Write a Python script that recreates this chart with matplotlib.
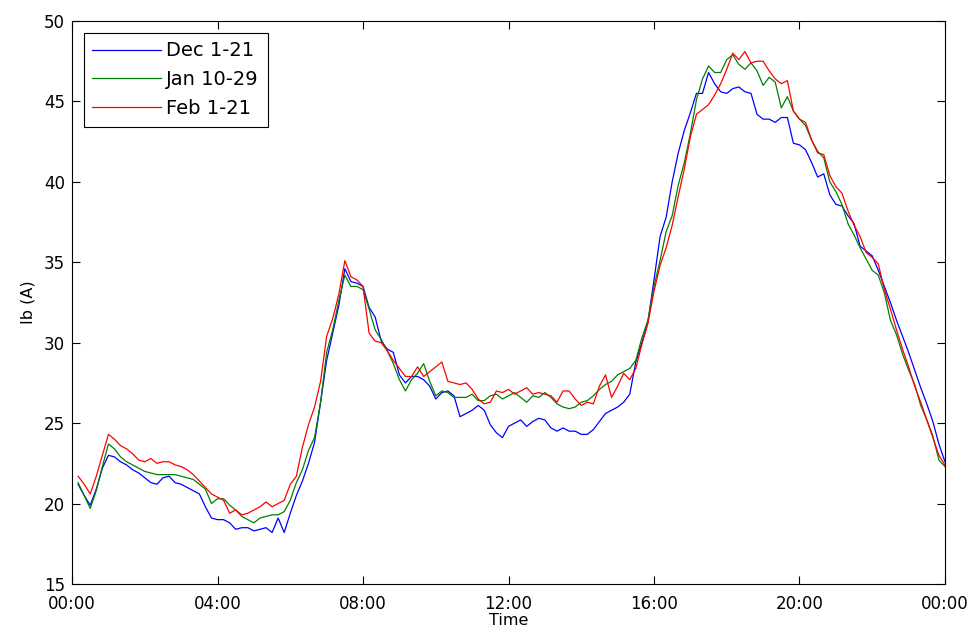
# daily_current_profile.py
# Average phase-b current over a day, one curve per measurement period

import numpy as np
import matplotlib
matplotlib.use("Agg")
import matplotlib.pyplot as plt

# ------------------------------
# DATA (10-minute averages, 00:10 .. 24:00)
# ------------------------------

STEP_MIN = 10

DEC_1_21 = [
    21.2, 20.5, 19.9, 20.9, 22.2, 23.0,
    22.9, 22.6, 22.4, 22.1, 21.9, 21.6, 21.3, 21.2, 21.6, 21.7, 21.3, 21.2, 21.0, 20.8, 20.6, 19.8,
    19.1, 19.0, 19.0, 18.8, 18.4, 18.5, 18.5, 18.3, 18.4, 18.5, 18.2, 19.1, 18.2, 19.4, 20.5, 21.4, 22.5, 23.8, 26.3,
    28.9, 30.6, 32.3, 34.6, 33.8, 33.7, 33.5, 32.2, 31.6, 30.1, 29.6, 29.4, 28.0, 27.5, 27.9, 27.9, 27.7, 27.3, 26.5,
    26.9, 27.0, 26.7, 25.4,
    25.6, 25.8, 26.1, 25.8, 24.9, 24.4, 24.1, 24.8, 25.0, 25.2, 24.8, 25.1, 25.3, 25.2, 24.7, 24.5, 24.7, 24.5, 24.5,
    24.3, 24.3, 24.6, 25.1,
    25.6, 25.8, 26.0, 26.3, 26.8, 28.8, 30.0, 31.3, 33.9, 36.6, 37.8, 40.0, 41.8, 43.2, 44.3, 45.5, 45.5, 46.8, 46.1,
    45.6,
    45.5, 45.8, 45.9, 45.6, 45.5, 44.2, 43.9, 43.9, 43.7, 44.0, 44.0, 42.4, 42.3, 42.0, 41.2, 40.3, 40.5, 39.2,
    38.6, 38.5, 37.9, 37.4, 36.0, 35.7, 35.4, 34.5, 33.5, 32.5, 31.4, 30.4, 29.4, 28.3, 27.2, 26.2, 25.1, 23.7, 22.6,
]

JAN_10_29 = [
    21.3, 20.5, 19.7, 20.8, 22.3, 23.7,
    23.4, 22.9, 22.6, 22.4, 22.2, 22.0, 21.9, 21.8, 21.8, 21.8, 21.8, 21.7, 21.6, 21.5, 21.2, 20.9,
    20.0, 20.3, 20.3, 19.9, 19.6, 19.2, 19.0, 18.8, 19.1, 19.2, 19.3, 19.3, 19.5, 20.2, 21.3, 22.1, 23.3, 24.1, 26.3,
    29.4, 30.8, 32.6, 34.2, 33.5, 33.5, 33.3, 32.1, 30.8, 30.2, 29.5, 28.7, 27.7, 27.0, 27.7, 28.1, 28.7, 27.6, 26.7,
    27.0, 26.9, 26.6, 26.6,
    26.6, 26.8, 26.4, 26.4, 26.7, 26.8, 26.5, 26.7, 26.9, 26.6, 26.3, 26.7, 26.6, 26.9, 26.6, 26.2, 26.0, 25.9, 26.0,
    26.3, 26.4, 26.7, 27.1,
    27.4, 27.6, 28.0, 28.2, 28.4, 28.9, 30.3, 31.4, 33.5, 35.1, 36.9, 37.9, 39.8, 41.2, 43.0, 45.1, 46.4, 47.2, 46.8,
    46.8,
    47.6, 47.9, 47.3, 47.0, 47.4, 46.9, 46.0, 46.5, 46.2, 44.6, 45.3, 44.4, 43.9, 43.5, 42.6, 41.9, 41.5, 40.0,
    39.4, 38.6, 37.4, 36.7, 35.9, 35.2, 34.5, 34.2, 33.1, 31.4, 30.5, 29.3, 28.3, 27.4, 26.1, 25.2, 24.2, 22.7, 22.3,
]

FEB_1_21 = [
    21.7, 21.2, 20.6, 21.7, 23.0, 24.3,
    24.0, 23.6, 23.4, 23.1, 22.7, 22.6, 22.8, 22.5, 22.6, 22.6, 22.4, 22.3, 22.1, 21.8, 21.4, 21.0,
    20.6, 20.4, 20.2, 19.4, 19.6, 19.3, 19.4, 19.6, 19.8, 20.1, 19.8, 20.0, 20.2, 21.2, 21.7, 23.5, 24.9, 26.0, 27.6,
    30.4, 31.5, 33.0, 35.1, 34.1, 33.9, 33.5, 30.6, 30.1, 30.0, 29.5, 28.9, 28.4, 27.9, 27.9, 28.5, 27.9, 28.2, 28.5,
    28.8, 27.6, 27.5, 27.4,
    27.5, 27.1, 26.5, 26.2, 26.3, 27.0, 26.9, 27.1, 26.8, 27.0, 27.2, 26.8, 26.9, 26.8, 26.7, 26.3, 27.0, 27.0, 26.5,
    26.1, 26.3, 26.2, 27.3,
    28.0, 26.6, 27.3, 28.1, 27.7, 28.4, 29.9, 31.2, 33.2, 34.8, 35.9, 37.3, 39.1, 40.8, 42.8, 44.2, 44.5, 44.8, 45.4,
    46.1,
    47.0, 48.0, 47.6, 48.1, 47.4, 47.5, 47.5, 46.9, 46.4, 46.1, 46.3, 44.4, 43.9, 43.7, 42.6, 41.8, 41.7, 40.4,
    39.7, 39.3, 38.2, 37.3, 36.6, 35.6, 35.3, 34.9, 33.3, 32.1, 30.8, 29.6, 28.5, 27.3, 26.3, 25.2, 24.1, 23.0, 22.4,
]

SERIES_LABELS = ["Dec 1-21", "Jan 10-29", "Feb 1-21"]
SERIES_COLORS = [(0, 0, 1), (0, 0.5, 0), (1, 0, 0)]

X_TICKS = [0, 4, 8, 12, 16, 20, 24]
X_TICK_LABELS = ["00:00", "04:00", "08:00", "12:00", "16:00", "20:00", "00:00"]
Y_TICKS = [15, 20, 25, 30, 35, 40, 45, 50]

# ------------------------------
# VISUALIZATION
# ------------------------------

def plot_profiles():
    plt.rcParams["font.family"] = "DejaVu Sans"
    fig = plt.figure(figsize=(9.71, 6.39), dpi=100)
    ax = fig.add_axes([0.0742, 0.0861, 0.899, 0.881])

    hours = np.arange(1, len(DEC_1_21) + 1) * STEP_MIN / 60.0
    for values, label, color in zip([DEC_1_21, JAN_10_29, FEB_1_21], SERIES_LABELS, SERIES_COLORS):
        ax.plot(hours, values, color=color, lw=0.9, label=label)

    ax.set_xlim(0, 24)
    ax.set_ylim(15, 50)
    ax.set_xticks(X_TICKS)
    ax.set_xticklabels(X_TICK_LABELS)
    ax.set_yticks(Y_TICKS)
    ax.tick_params(direction="in", length=5.5, width=0.8, top=True, right=True,
                   labelsize=12, colors="black")
    ax.tick_params(axis="x", pad=8)
    ax.tick_params(axis="y", pad=5)
    for spine in ax.spines.values():
        spine.set_linewidth(0.8)

    ax.set_xlabel("Time", fontsize=11.5, labelpad=0)
    ax.set_ylabel("Ib (A)", fontsize=11.5, labelpad=6)

    leg = ax.legend(loc="upper left", fontsize=14, frameon=True, fancybox=False,
                    edgecolor="black", framealpha=1, handlelength=3.5,
                    handletextpad=0.3, labelspacing=0.5, borderpad=0.45,
                    borderaxespad=0.6)
    leg.get_frame().set_linewidth(0.8)

    fig.savefig("out.png", dpi=100)


if __name__ == "__main__":
    plot_profiles()
